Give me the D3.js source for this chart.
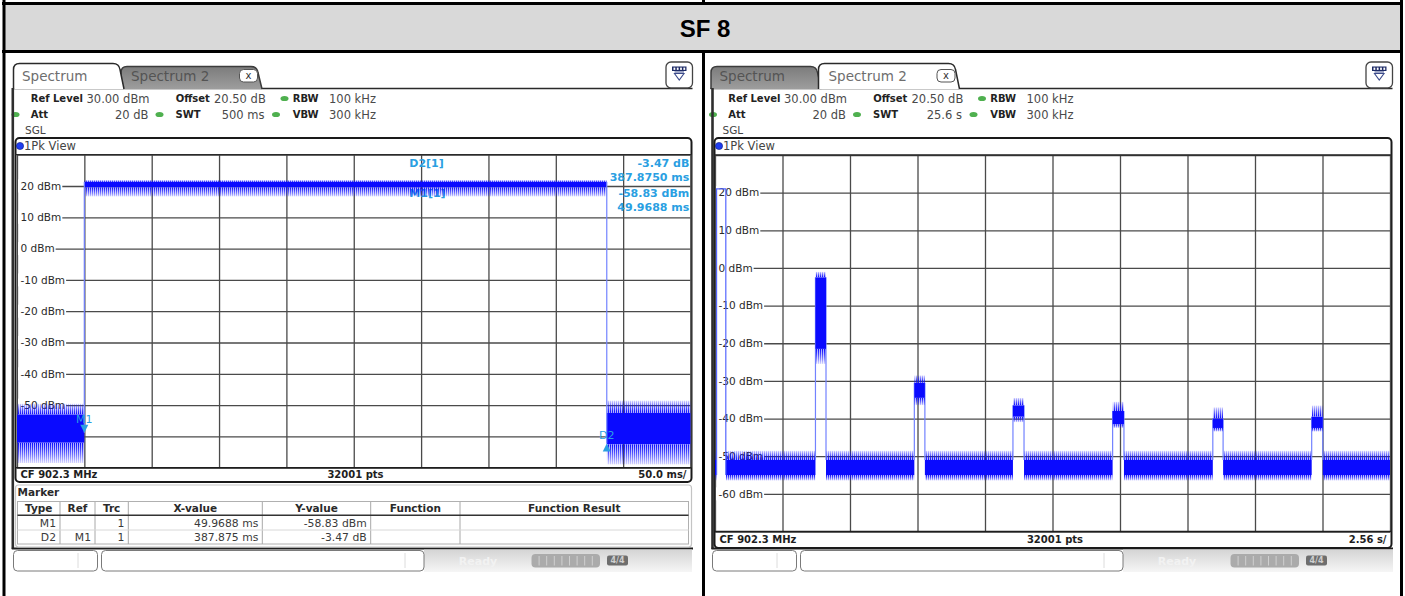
<!DOCTYPE html>
<meta charset="utf-8">
<script src="https://d3js.org/d3.v7.min.js"></script>
<style>
body { margin: 0; background: #fff; }
text { font-family: "DejaVu Sans", Verdana, sans-serif; }
</style>
<div id="chart"></div>
<script>
// ---------- values ----------
var title = "SF 8";
var gridLevels = [30, 20, 10, 0, -10, -20, -30, -40, -50, -60, -70];   // dBm
var leftLevelLabels = [20, 10, 0, -10, -20, -30, -40, -50];
var rightLevelLabels = [20, 10, 0, -10, -20, -30, -40, -50, -60];
var sweepTimes = ["500 ms", "25.6 s"];
var timeDivs = ["50.0 ms/", "2.56 s/"];
var centerFreq = "CF 902.3 MHz";
var sweepPoints = "32001 pts";

// left screen (ms)
var leftGridTimes = [0, 50, 100, 150, 200, 250, 300, 350, 400, 450, 500];
var leftSegStart = [0, 49.97, 437.84];
var leftSegEnd = [49.97, 437.84, 500];
var leftSpikeTop = [-49.5, 21.9, -48.5];
var leftBandTop = [-53, 21.3, -52.5];
var leftBandBottom = [-62, 19.6, -62.5];
var leftSpikeBottom = [-68.5, 16.6, -69];
var markerNames = ["M1", "D2"];
var markerTimes = [49.9688, 437.8438];
var markerLevels = [-58.83, -62.30];
var readoutNames = ["D2[1]", "M1[1]"];
var readoutValues = ["-3.47 dB", "387.8750 ms", "-58.83 dBm", "49.9688 ms"];
var tableHead = ["Type", "Ref", "Trc", "X-value", "Y-value", "Function", "Function Result"];
var tableRows = [
  ["M1", "", "1", "49.9688 ms", "-58.83 dBm", "", ""],
  ["D2", "M1", "1", "387.875 ms", "-3.47 dB", "", ""]
];

// right screen (s)
var rightGridTimes = [0, 2.56, 5.12, 7.68, 10.24, 12.8, 15.36, 17.92, 20.48, 23.04, 25.6];
var burstStart = [0.06, 3.81, 7.56, 11.30, 15.08, 18.88, 22.63];
var burstEnd = [0.41, 4.21, 7.96, 11.72, 15.51, 19.27, 23.05];
var burstSpikeTop = [21, -1, -28.5, -34.5, -35.5, -37, -36.5];
var burstBandTop = [21, -2.5, -30.5, -36.5, -38, -40, -39.5];
var burstBandBottom = [21, -21.5, -34.5, -39.5, -41.5, -42.5, -42.5];
var burstSpikeBottom = [21, -25.5, -36.5, -41, -42.5, -43.5, -43.5];
var noiseLevels = [-48.5, -51, -55, -56.5];   // spike top, band top, band bottom, spike bottom

// ---------- drawing ----------
var blue = "#0a0aff", edgeBlue = "#7282ff", mkBlue = "#2a9fe2";
var svg = d3.select("#chart").append("svg")
  .attr("width", 1405).attr("height", 596).style("display", "block");
var defs = svg.append("defs");

var tg = defs.append("linearGradient").attr("id", "tabGray").attr("x1", 0).attr("y1", 0).attr("x2", 0).attr("y2", 1);
tg.append("stop").attr("offset", 0).attr("stop-color", "#7c7c7c");
tg.append("stop").attr("offset", 1).attr("stop-color", "#9d9d9d");
var sg = defs.append("linearGradient").attr("id", "statusGray").attr("x1", 0).attr("y1", 0).attr("x2", 0).attr("y2", 1);
sg.append("stop").attr("offset", 0).attr("stop-color", "#d4d4d4");
sg.append("stop").attr("offset", 1).attr("stop-color", "#f6f6f6");
defs.append("pattern").attr("id", "comb").attr("patternUnits", "userSpaceOnUse")
  .attr("width", 2).attr("height", 6)
  .append("rect").attr("width", 1).attr("height", 6).attr("fill", blue);
[["wUp", 1, 0], ["wDown", 0, 1]].forEach(function(d) {
  var lg = defs.append("linearGradient").attr("id", d[0]).attr("x1", 0).attr("x2", 0).attr("y1", d[1]).attr("y2", d[2]);
  lg.append("stop").attr("offset", 0).attr("stop-color", "#fff").attr("stop-opacity", 1);
  lg.append("stop").attr("offset", 1).attr("stop-color", "#fff").attr("stop-opacity", 0.12);
  defs.append("mask").attr("id", "m" + d[0].slice(1)).attr("maskContentUnits", "objectBoundingBox")
    .append("rect").attr("width", 1).attr("height", 1).attr("fill", "url(#" + d[0] + ")");
});

function txt(g, x, y, s, size, opt) {
  opt = opt || {};
  return g.append("text").attr("x", x).attr("y", y).attr("dy", "0.36em")
    .attr("font-size", size).attr("font-weight", opt.bold ? "bold" : null)
    .attr("text-anchor", opt.anchor || "start").attr("fill", opt.fill || "#333").text(s);
}

// outer table
svg.append("rect").attr("x", 4).attr("y", 4).attr("width", 1396).attr("height", 47).attr("fill", "#d9d9d9");
[[2, 3.5, 1403, 3.5], [2, 51.5, 1403, 51.5], [4, 0, 4, 596], [1401.5, 0, 1401.5, 596],
 [703.5, 0, 703.5, 3], [703.5, 51, 703.5, 596]].forEach(function(l) {
  svg.append("line").attr("x1", l[0]).attr("y1", l[1]).attr("x2", l[2]).attr("y2", l[3])
    .attr("stroke", "#000").attr("stroke-width", 3);
});
svg.append("text").attr("x", 705).attr("y", 28).attr("dy", "0.36em").attr("text-anchor", "middle")
  .style("font-family", "'Liberation Sans', Arial, sans-serif").attr("font-size", 24)
  .attr("font-weight", "bold").text(title);

function tabPath(a, b, top, closed) {
  var p = d3.path();
  p.moveTo(a, 89); p.lineTo(a, top + 6); p.quadraticCurveTo(a, top, a + 6, top);
  p.lineTo(b - 11, top); p.quadraticCurveTo(b - 5, top, b - 4, top + 6);
  p.lineTo(b, 89);
  if (closed) p.closePath();
  return p.toString();
}

function drawScreen(c) {
  var g = svg.append("g");
  var ox = c.ox;
  // tabs
  g.append("line").attr("x1", ox + 13).attr("x2", c.frame[1] + 1).attr("y1", 88.5).attr("y2", 88.5)
    .attr("stroke", "#2a2a2a").attr("stroke-width", 1.6);
  var tabs = [[ox + 13.5, ox + 124, "Spectrum", ox + 22], [ox + 121, ox + 262, "Spectrum 2", ox + 131]];
  var order = c.active === 0 ? [1, 0] : [0, 1];
  order.forEach(function(i) {
    var t = tabs[i], act = i === c.active;
    var top = act ? 63.5 : 66.5;
    g.append("path").attr("d", tabPath(t[0], t[1], top, true))
      .attr("fill", act ? "#fff" : "url(#tabGray)").attr("stroke", "none");
    g.append("path").attr("d", tabPath(t[0], t[1], top, false))
      .attr("fill", "none").attr("stroke", act ? "#2a2a2a" : "#3c3c3c").attr("stroke-width", 1.5);
    txt(g, t[3], 76.5, t[2], 13.5, { fill: act ? "#6e6e6e" : "#545454" });
  });
  g.append("rect").attr("x", ox + 239.5).attr("y", 69.5).attr("width", 18).attr("height", 12.5).attr("rx", 4)
    .attr("fill", "#fff").attr("stroke", "#555");
  txt(g, ox + 248.5, 75.5, "x", 10, { anchor: "middle", fill: "#333" });
  // setup icon
  g.append("rect").attr("x", c.iconX).attr("y", 62).attr("width", 26.5).attr("height", 26).attr("rx", 5)
    .attr("fill", "#fff").attr("stroke", "#444").attr("stroke-width", 1.3);
  g.append("rect").attr("x", c.iconX + 6).attr("y", 66.5).attr("width", 14.5).attr("height", 4.5).attr("fill", "#1d2a66");
  [0, 1, 2, 3].forEach(function(k) {
    g.append("rect").attr("x", c.iconX + 7.5 + k * 3.3).attr("y", 67.6).attr("width", 1.8).attr("height", 2.3).attr("fill", "#fff");
  });
  g.append("path").attr("d", "M" + (c.iconX + 8.5) + ",73.5 L" + (c.iconX + 18) + ",73.5 L" + (c.iconX + 13.25) + ",80 Z")
    .attr("fill", "none").attr("stroke", "#3d4c8c").attr("stroke-width", 1.1);
  g.append("line").attr("x1", c.iconX + 8.5).attr("x2", c.iconX + 18).attr("y1", 72).attr("y2", 72).attr("stroke", "#3d4c8c");

  // info rows
  var dot = function(x, y) {
    g.append("ellipse").attr("cx", x).attr("cy", y).attr("rx", 4).attr("ry", 2.6).attr("fill", "#4fb04f");
  };
  txt(g, ox + 30.7, 98.5, "Ref Level", 10, { bold: true, fill: "#222" });
  txt(g, ox + 86.5, 98.5, "30.00 dBm", 11.5, { fill: "#4a4a4a" });
  txt(g, ox + 175.7, 98.5, "Offset", 10, { bold: true, fill: "#222" });
  txt(g, ox + 214, 98.5, "20.50 dB", 11.5, { fill: "#4a4a4a" });
  dot(ox + 284.5, 98.5);
  txt(g, ox + 292.7, 98.5, "RBW", 10, { bold: true, fill: "#222" });
  txt(g, ox + 329, 98.5, "100 kHz", 11.5, { fill: "#4a4a4a" });
  dot(ox + 15.5, 114.5);
  txt(g, ox + 30.7, 114.5, "Att", 10, { bold: true, fill: "#222" });
  txt(g, ox + 148.5, 114.5, "20 dB", 11.5, { anchor: "end", fill: "#4a4a4a" });
  dot(ox + 159.5, 114.5);
  txt(g, ox + 175.5, 114.5, "SWT", 10, { bold: true, fill: "#222" });
  txt(g, ox + 264.5, 114.5, c.swt, 11.5, { anchor: "end", fill: "#4a4a4a" });
  dot(ox + 276, 114.5);
  txt(g, ox + 292.7, 114.5, "VBW", 10, { bold: true, fill: "#222" });
  txt(g, ox + 329, 114.5, "300 kHz", 11.5, { fill: "#4a4a4a" });
  txt(g, ox + 25, 130.5, "SGL", 10.5, { fill: "#444" });

  // instrument edge
  g.append("line").attr("x1", c.edgeX).attr("x2", c.edgeX).attr("y1", 88).attr("y2", 549)
    .attr("stroke", "#2e2e2e").attr("stroke-width", 2.6);
  g.append("line").attr("x1", c.edgeX - 1).attr("x2", c.frame[1] + 1.5).attr("y1", 548.5).attr("y2", 548.5)
    .attr("stroke", "#1e1e1e").attr("stroke-width", 2);

  // diagram frame
  var fx0 = c.frame[0], fx1 = c.frame[1], fy1 = c.frame[2];
  g.append("rect").attr("x", fx0).attr("y", 138).attr("width", fx1 - fx0).attr("height", fy1 - 138).attr("rx", 4)
    .attr("fill", "#fff").attr("stroke", "#1a1a1a").attr("stroke-width", 2);
  g.append("circle").attr("cx", fx0 + 4.5).attr("cy", 146).attr("r", 3.6).attr("fill", "#1f3df0").attr("stroke", "#0a1a80").attr("stroke-width", 0.6);
  txt(g, fx0 + 8.5, 146, "1Pk View", 11.5, { fill: "#444" });

  var gx0 = c.grid[0], gx1 = c.grid[1], gy0 = c.grid[2], gy1 = c.grid[3];
  var x = d3.scaleLinear().domain(c.domain).range([gx0, gx1]);
  var y = d3.scaleLinear().domain([-70, 30]).range([gy1, gy0]);

  var gridG = g.append("g");
  gridG.append("g").attr("transform", "translate(0," + gy1 + ")")
    .call(d3.axisBottom(x).tickValues(c.gridTimes).tickSize(-(gy1 - gy0)).tickFormat(""));
  gridG.append("g").attr("transform", "translate(" + gx0 + ",0)")
    .call(d3.axisLeft(y).tickValues(gridLevels).tickSize(-(gx1 - gx0)).tickFormat(""));
  gridG.selectAll(".domain").remove();
  gridG.selectAll(".tick line").attr("stroke", "#4a4a4a").attr("stroke-width", 1.3);
  g.append("line").attr("x1", fx0).attr("x2", fx1).attr("y1", gy0).attr("y2", gy0).attr("stroke", "#2a2a2a").attr("stroke-width", 1.3);

  // level labels
  c.labels.forEach(function(v) {
    var s = v + " dBm";
    var t = txt(g, gx0 + 3.5, y(v), s, 10.5, { fill: "#2a2a2a" });
    var w = t.node().getComputedTextLength();
    g.insert("rect", function() { return t.node(); })
      .attr("x", gx0 + 1).attr("y", y(v) - 6.5).attr("width", w + 3.5).attr("height", 13).attr("fill", "#fff");
  });

  // footer bar
  g.append("line").attr("x1", fx0).attr("x2", fx1).attr("y1", gy1).attr("y2", gy1).attr("stroke", "#1e1e1e").attr("stroke-width", 1.6);
  var fy = (gy1 + fy1) / 2;
  txt(g, fx0 + 5, fy, centerFreq, 10, { bold: true, fill: "#1e1e1e" });
  txt(g, (fx0 + fx1) / 2 + 2, fy, sweepPoints, 10, { bold: true, fill: "#1e1e1e", anchor: "middle" });
  txt(g, fx1 - 5, fy, c.div, 10, { bold: true, fill: "#1e1e1e", anchor: "end" });

  return { g: g, x: x, y: y };
}

function band(g, x, y, t0, t1, sTop, bTop, bBot, sBot) {
  var xa = x(t0), w = x(t1) - x(t0);
  [[sTop, bTop, "url(#mUp)"], [bBot, sBot, "url(#mDown)"]].forEach(function(p) {
    g.append("rect").attr("x", xa).attr("width", w).attr("y", y(p[0])).attr("height", y(p[1]) - y(p[0]))
      .attr("fill", blue).attr("fill-opacity", 0.35).attr("mask", p[2]);
    g.append("rect").attr("x", xa).attr("width", w).attr("y", y(p[0])).attr("height", y(p[1]) - y(p[0]))
      .attr("fill", "url(#comb)").attr("mask", p[2]);
  });
  g.append("rect").attr("x", xa).attr("width", w).attr("y", y(bTop)).attr("height", Math.max(1.5, y(bBot) - y(bTop)))
    .attr("fill", blue);
}

function edge(g, x, y, t, a, b) {
  g.append("line").attr("x1", x(t)).attr("x2", x(t)).attr("y1", y(a)).attr("y2", y(b))
    .attr("stroke", edgeBlue).attr("stroke-width", 1.2);
}

function drawStatus(dx, right) {
  var g = svg.append("g");
  g.append("rect").attr("x", dx + 424).attr("y", 549.5).attr("width", right - 424 - dx).attr("height", 22.5).attr("fill", "url(#statusGray)");
  g.append("rect").attr("x", dx + 13.5).attr("y", 550.5).attr("width", 84).attr("height", 20.5).attr("rx", 4)
    .attr("fill", "#fff").attr("stroke", "#7a7a7a");
  g.append("line").attr("x1", dx + 78).attr("x2", dx + 78).attr("y1", 553).attr("y2", 568).attr("stroke", "#dcdcdc");
  g.append("rect").attr("x", dx + 101.5).attr("y", 550.5).attr("width", 322.5).attr("height", 20.5).attr("rx", 4)
    .attr("fill", "#fff").attr("stroke", "#7a7a7a");
  g.append("line").attr("x1", dx + 405).attr("x2", dx + 405).attr("y1", 553).attr("y2", 568).attr("stroke", "#dcdcdc");
  txt(g, dx + 478, 561, "Ready", 11, { bold: true, anchor: "middle", fill: "#f2f2f2" });
  g.append("rect").attr("x", dx + 531.5).attr("y", 554).attr("width", 68.5).attr("height", 13.5).attr("rx", 4).attr("fill", "#ababab");
  for (var k = 1; k < 9; k++) {
    g.append("line").attr("x1", dx + 531.5 + k * 7.6).attr("x2", dx + 531.5 + k * 7.6).attr("y1", 556).attr("y2", 565.5)
      .attr("stroke", "#d0d0d0").attr("stroke-width", 1);
  }
  g.append("rect").attr("x", dx + 607).attr("y", 555.5).attr("width", 21).attr("height", 10).attr("rx", 2).attr("fill", "#6e6e6e");
  txt(g, dx + 617.5, 560.5, "4/4", 8, { bold: true, anchor: "middle", fill: "#cfcfcf" });
}

// ===== left screen =====
var L = drawScreen({ ox: 0, active: 0, swt: sweepTimes[0], div: timeDivs[0], edgeX: 12.8,
  frame: [15.5, 691.5, 482], grid: [17, 690.5, 154.7, 467.7], iconX: 666,
  domain: [0, 500], gridTimes: leftGridTimes, labels: leftLevelLabels });

// readout partly under the trace
txt(L.g, 409.3, 193.3, readoutNames[1], 11, { bold: true, fill: mkBlue });
var lt = L.g.append("g");
for (var i = 0; i < leftSegStart.length; i++) {
  band(lt, L.x, L.y, leftSegStart[i], leftSegEnd[i], leftSpikeTop[i], leftBandTop[i], leftBandBottom[i], leftSpikeBottom[i]);
}
edge(lt, L.x, L.y, leftSegEnd[0], leftBandTop[1], markerLevels[0]);
edge(lt, L.x, L.y, leftSegEnd[1], leftBandTop[1], markerLevels[1]);
txt(L.g, 409.3, 163.3, readoutNames[0], 11, { bold: true, fill: mkBlue });
readoutValues.forEach(function(v, k) {
  txt(L.g, 689.3, [163.3, 176.7, 192.7, 207.3][k], v, 11, { bold: true, fill: mkBlue, anchor: "end" });
});
// marker symbols
markerNames.forEach(function(m, k) {
  var mx = L.x(markerTimes[k]), my = L.y(markerLevels[k]);
  var d = k === 0 ? "M" + (mx - 4) + "," + (my - 8) + " L" + (mx + 4) + "," + (my - 8) + " L" + mx + "," + my + " Z"
                  : "M" + (mx - 4) + "," + (my + 8) + " L" + (mx + 4) + "," + (my + 8) + " L" + mx + "," + my + " Z";
  L.g.append("path").attr("d", d).attr("fill", mkBlue);
  txt(L.g, mx, k === 0 ? my - 14 : my - 8.5, m, 11, { fill: mkBlue, anchor: "middle" });
});

// marker table
var mt = L.g.append("g");
mt.append("rect").attr("x", 15.5).attr("y", 485).attr("width", 676).attr("height", 62).attr("rx", 3)
  .attr("fill", "#fff").attr("stroke", "#c4c4c4").attr("stroke-width", 1.2);
txt(mt, 17.5, 492.5, "Marker", 10.5, { bold: true, fill: "#2a2a2a" });
mt.append("rect").attr("x", 17.5).attr("y", 501.5).attr("width", 671).attr("height", 42.5)
  .attr("fill", "#fff").attr("stroke", "#b0b0b0");
var colX = [17.5, 60, 95, 128.3, 262.3, 370.7, 460, 688.5];
colX.slice(1, -1).forEach(function(cx) {
  mt.append("line").attr("x1", cx).attr("x2", cx).attr("y1", 502).attr("y2", 544).attr("stroke", "#a8a8a8");
});
mt.append("line").attr("x1", 17.5).attr("x2", 688.5).attr("y1", 515.3).attr("y2", 515.3).attr("stroke", "#333").attr("stroke-width", 1.5);
mt.append("line").attr("x1", 17.5).attr("x2", 688.5).attr("y1", 530).attr("y2", 530).attr("stroke", "#d8d8d8");
tableHead.forEach(function(h, k) {
  txt(mt, (colX[k] + colX[k + 1]) / 2, 508.5, h, 10.5, { bold: true, anchor: "middle", fill: "#2a2a2a" });
});
tableRows.forEach(function(r, j) {
  r.forEach(function(v, k) {
    if (v) txt(mt, colX[k + 1] - 4, 523 + j * 14, v, 10.8, { anchor: "end", fill: "#3a3a3a" });
  });
});
drawStatus(0, 692);

// ===== right screen =====
var R = drawScreen({ ox: 697.5, active: 1, swt: sweepTimes[1], div: timeDivs[1], edgeX: 712.5,
  frame: [714.5, 1391.5, 548], grid: [715, 1390, 155, 531.5], iconX: 1366,
  domain: [0, 25.6], gridTimes: rightGridTimes, labels: rightLevelLabels });

var rt = R.g.append("g");
// noise between the bursts
var gapStart = [0].concat(burstEnd), gapEnd = burstStart.concat([25.6]);
gapStart.forEach(function(t0, k) {
  band(rt, R.x, R.y, t0, gapEnd[k], noiseLevels[0], noiseLevels[1], noiseLevels[2], noiseLevels[3]);
});
// first burst: sparse outline only
var p0 = d3.path();
p0.moveTo(R.x(burstStart[0]), R.y(noiseLevels[2]));
p0.lineTo(R.x(burstStart[0]), R.y(burstBandTop[0]));
p0.lineTo(R.x(burstEnd[0]), R.y(burstBandTop[0]));
p0.lineTo(R.x(burstEnd[0]), R.y(noiseLevels[2]));
rt.append("path").attr("d", p0.toString()).attr("fill", "none").attr("stroke", "#5566ff").attr("stroke-width", 1.2);
for (var b = 1; b < burstStart.length; b++) {
  edge(rt, R.x, R.y, burstStart[b], burstBandTop[b], noiseLevels[1]);
  edge(rt, R.x, R.y, burstEnd[b], burstBandTop[b], noiseLevels[1]);
  band(rt, R.x, R.y, burstStart[b], burstEnd[b], burstSpikeTop[b], burstBandTop[b], burstBandBottom[b], burstSpikeBottom[b]);
}
drawStatus(699, 1393);
</script>
